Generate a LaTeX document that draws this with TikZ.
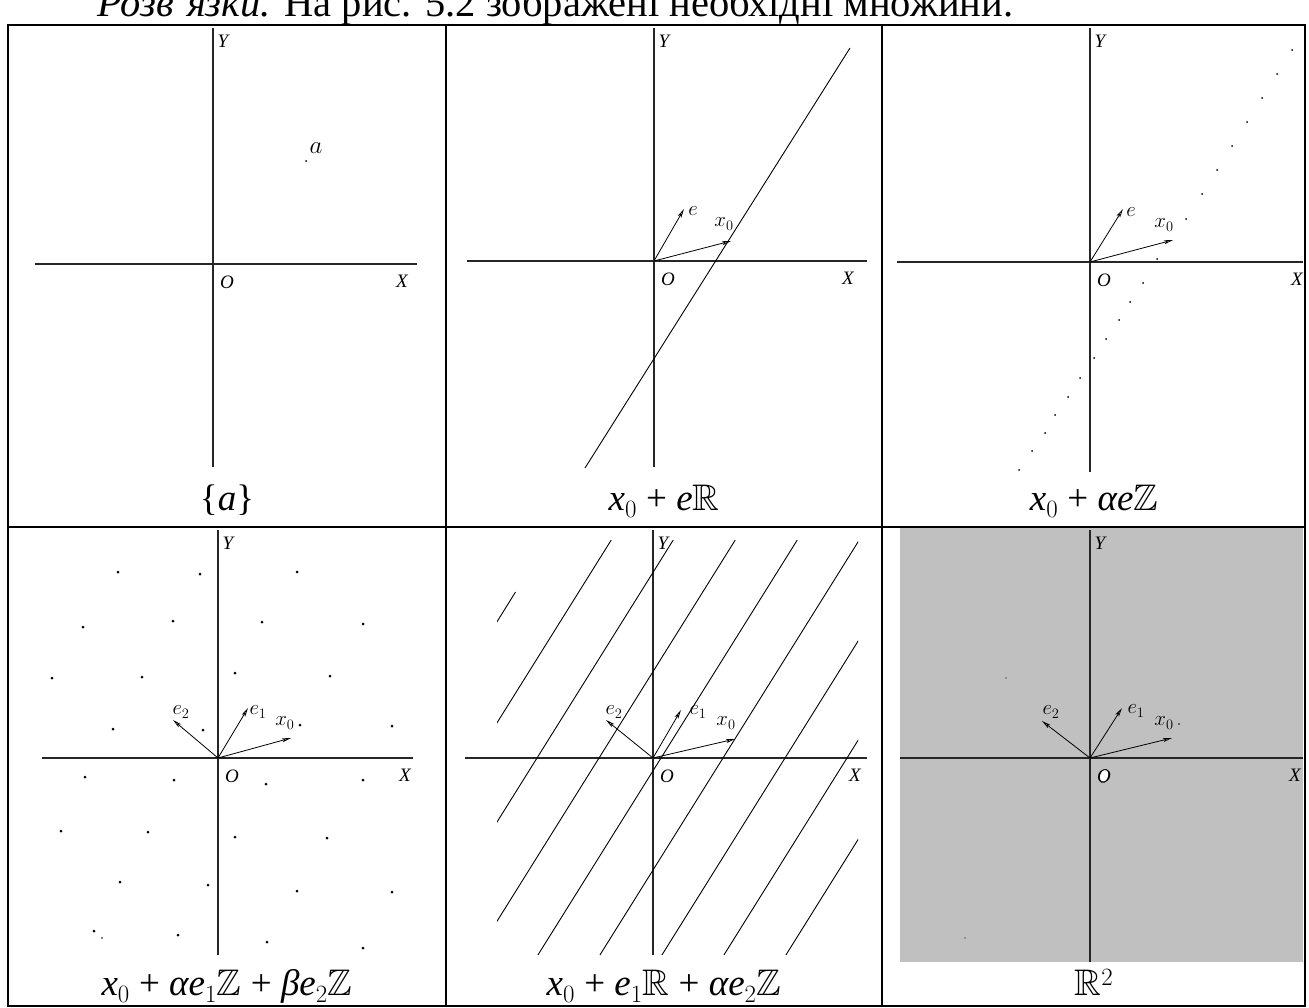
\documentclass[tikz,border=0pt]{standalone}
\usepackage{amsmath}
\usepackage{amssymb}
\usepackage{fontspec}
\setmainfont{Liberation Serif}
\usetikzlibrary{arrows.meta}
\definecolor{planegrey}{RGB}{192,192,192}

\begin{document}
\begin{tikzpicture}[
    x=1pt, y=-1pt,
    cellrule/.style={line width=2pt},
    axisline/.style={line width=1.3pt, draw=black!85},
    vecarrow/.style={line width=0.8pt, -{Stealth[length=9pt, width=4pt, inset=2pt, open]}},
    axlabel/.style={font=\fontsize{19}{19}\selectfont\itshape, inner sep=0pt},
    veclabel/.style={font=\fontsize{21}{21}\selectfont, inner sep=0pt},
    caption/.style={font=\fontsize{37}{40}\selectfont, inner sep=0pt, anchor=base},
    setline/.style={line width=0.9pt}
]
\useasboundingbox (0,0) rectangle (1309,1008);
\fill[white] (0,0) rectangle (1309,1008);
\node[anchor=base west, inner sep=0pt, font=\fontsize{40.5}{44}\selectfont] (heading) at (97,17) {\textit{Розв’язки.} На рис. 5.2 зображені необхідні множини.};

\fill[planegrey] (900,528) rectangle (1303,962);

\foreach \n/\ox/\oy/\xl/\xr/\yt/\yb/\xx in {a/213/264/35/417/28/467/402, b/654/261/467/867/28/467/848, c/1090/262/897/1303/28/472/1297, d/218/758/42/413/530/955/405, e/653/758/465/867/530/955/855, f/1090/758/900/1303/530/962/1295} {
    \coordinate (O\n) at (\ox,\oy);
    \draw[axisline] (\ox,\yt) -- (\ox,\yb);
    \draw[axisline] (\xl,\oy) -- (\xr,\oy);
    \node[axlabel] (Y\n) at (\ox+10,\yt+13) {Y};
    \node[axlabel] (X\n) at (\xx,\oy+17) {X};
}
\foreach \n in {a,b,c,d,e} {
    \node[axlabel] (Olabel\n) at ([shift={(14,18)}]O\n) {O};
}
\filldraw[fill=white, draw=black, line width=0.5pt, shift={(1104,776)}, rotate=-18] (0,0) ellipse (4.5pt and 7pt);
\node[axlabel] (Olabelf) at ([shift={(14,18)}]Of) {O};

% {a}
\fill (306,161) circle (1pt);
\node[veclabel, font=\fontsize{25}{25}\selectfont] (alabel) at (316,148) {$a$};

% x_0 + eR
\draw[setline] (585,468) -- (850,48);
\draw[vecarrow] (Ob) -- ++(30,-52) coordinate (eb);
\draw[vecarrow] (Ob) -- ++(77,-20) coordinate (xb);
\node[veclabel] (eblabel) at (693,211) {$e$};
\node[veclabel] (xblabel) at (724,224) {$x_0$};

% x_0 + alpha e Z
\foreach \px/\py in {1019/470, 1032/451, 1045/433, 1055/415, 1068/397, 1080/378, 1094/358, 1106/339, 1119/320, 1130/302, 1143/283, 1157/259, 1186/219, 1202/194, 1217/170, 1232/146, 1247/122, 1262/98, 1277/74, 1292/50}
    \fill (\px,\py) circle (1pt);
\draw[vecarrow] (Oc) -- ++(33,-53) coordinate (ec);
\draw[vecarrow] (Oc) -- ++(83,-22) coordinate (xc);
\node[veclabel] (eclabel) at (1131,212) {$e$};
\node[veclabel] (xclabel) at (1164,225) {$x_0$};

% lattice
\foreach \px/\py in {118/572, 200/574, 297/572, 83/627, 173/621, 262/622, 363/624, 52/678, 142/677, 235/673, 330/676, 113/729, 203/730, 300/725, 392/726, 85/777, 174/780, 266/784, 363/780, 61/831, 148/832, 235/837, 327/838, 120/882, 208/885, 297/891, 392/892, 94/931, 178/935, 267/942, 363/948}
    \fill (\px,\py) circle (1.5pt);
\fill (102,938) circle (0.8pt);
\draw[vecarrow] (Od) -- ++(30,-50) coordinate (e1d);
\draw[vecarrow] (Od) -- ++(-45,-38) coordinate (e2d);
\draw[vecarrow] (Od) -- ++(73,-20) coordinate (xd);
\node[veclabel] (e1dlabel) at (258,712) {$e_1$};
\node[veclabel] (e2dlabel) at (181,712) {$e_2$};
\node[veclabel] (xdlabel) at (285,723) {$x_0$};

% family of lines
\begin{scope}
    \clip (497,540) rectangle (858,960);
    \draw[setline] (413-126.25,960) -- (413+102.5,592);
    \foreach \c in {475,537,599,661,723,785,847,909}
        \draw[setline] (\c-123.1,955) -- (\c+136.25,540);
\end{scope}
\draw[vecarrow] (Oe) -- ++(28,-48) coordinate (e1e);
\draw[vecarrow] (Oe) -- ++(-47,-38) coordinate (e2e);
\draw[vecarrow] (Oe) -- ++(82,-19) coordinate (xe);
\node[veclabel] (e1elabel) at (698,712) {$e_1$};
\node[veclabel] (e2elabel) at (614,712) {$e_2$};
\node[veclabel] (xelabel) at (726,723) {$x_0$};

% plane
\fill (1006,678) circle (0.7pt);
\fill (965,938) circle (0.7pt);
\fill (1179,724) circle (0.9pt);
\draw[vecarrow] (Of) -- ++(32,-50) coordinate (e1f);
\draw[vecarrow] (Of) -- ++(-48,-37) coordinate (e2f);
\draw[vecarrow] (Of) -- ++(82,-20) coordinate (xf);
\node[veclabel] (e1flabel) at (1136,711) {$e_1$};
\node[veclabel] (e2flabel) at (1051,712) {$e_2$};
\node[veclabel] (xflabel) at (1164,723) {$x_0$};

\draw[cellrule] (8,25) rectangle (1305,1006);
\draw[cellrule] (8,527) -- (1305,527);
\draw[cellrule] (446,25) -- (446,1006);
\draw[cellrule] (882,25) -- (882,1006);

\node[caption] (capa) at (227,510) {\{\textit{a}\}};
\node[caption] (capb) at (664,510) {\textit{x}$_0$ + \textit{e}$\mathbb{R}$};
\node[caption] (capc) at (1094,510) {\textit{x}$_0$ + \textit{αe}$\mathbb{Z}$};
\node[caption] (capd) at (227,995) {\textit{x}$_0$ + \textit{αe}$_1\mathbb{Z}$ + \textit{βe}$_2\mathbb{Z}$};
\node[caption] (cape) at (664,995) {\textit{x}$_0$ + \textit{e}$_1\mathbb{R}$ + \textit{αe}$_2\mathbb{Z}$};
\node[caption] (capf) at (1094,995) {$\mathbb{R}^2$};
\end{tikzpicture}
\end{document}
